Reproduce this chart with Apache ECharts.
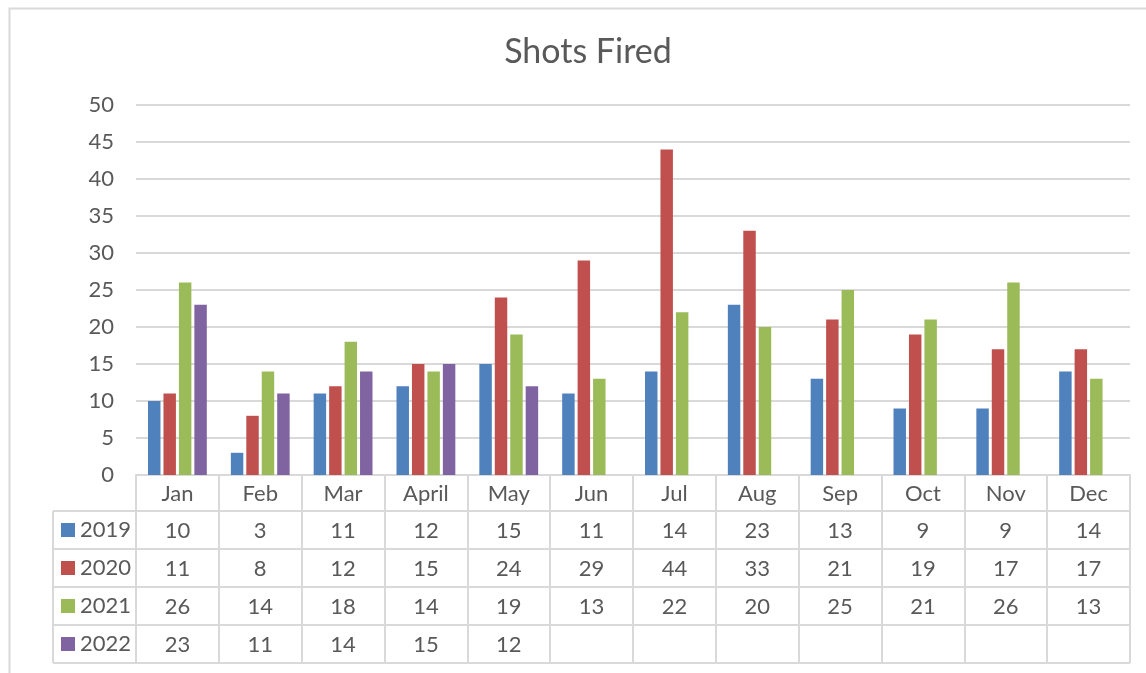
<!DOCTYPE html>
<html>
<head>
    <meta charset="utf-8">
    <script src="https://cdn.jsdelivr.net/npm/echarts@6/dist/echarts.min.js"></script>
</head>
<body style="margin:0">
    <div id="main" style="width: 1146px; height: 673px"></div>
    <script type="text/javascript">
        var months = ['Jan', 'Feb', 'Mar', 'April', 'May', 'Jun', 'Jul', 'Aug', 'Sep', 'Oct', 'Nov', 'Dec'];
        var years = ['2019', '2020', '2021', '2022'];
        var y2019 = [10, 3, 11, 12, 15, 11, 14, 23, 13, 9, 9, 14];
        var y2020 = [11, 8, 12, 15, 24, 29, 44, 33, 21, 19, 17, 17];
        var y2021 = [26, 14, 18, 14, 19, 13, 22, 20, 25, 21, 26, 13];
        var y2022 = [23, 11, 14, 15, 12, null, null, null, null, null, null, null];
        var yTicks = [0, 50, 5]; // min, max, step

        var rows = [y2019, y2020, y2021, y2022];
        var colors = ['#4f81bd', '#c0504d', '#9bbb59', '#8064a2'];
        var font = 'Lato';
        var textColor = '#595959';
        var lineColor = '#d9d9d9';

        // layout of plot + data table
        var gLeft = 136, gRight = 16, gTop = 105, gBottom = 198;
        var headH = 36, rowH = 38, keyLeft = 53;

        window.onload = function () {
            var myChart = echarts.init(document.getElementById('main'));
            var W = 1146, H = 673;
            var axisY = H - gBottom;
            var tableRight = W - gRight;

            var xAxes = [{
                type: 'category',
                data: months,
                axisLine: { lineStyle: { color: lineColor, width: 2 } },
                axisTick: { show: true, length: headH + rowH * rows.length, lineStyle: { color: lineColor, width: 2 } },
                axisLabel: { color: textColor, fontFamily: font, fontSize: 22, margin: 8 },
                splitLine: { show: false }
            }];
            for (var r = 0; r < rows.length; r++) {
                (function (vals, r) {
                    xAxes.push({
                        type: 'category',
                        data: months,
                        position: 'bottom',
                        offset: headH + rowH * r,
                        axisLine: { show: false },
                        axisTick: { show: false },
                        axisLabel: {
                            color: textColor, fontFamily: font, fontSize: 22, margin: 9,
                            formatter: function (v, idx) { return vals[idx] == null ? '' : String(vals[idx]); }
                        }
                    });
                })(rows[r], r);
            }

            var serie = [];
            for (var i = 0; i < rows.length; i++) {
                serie.push({
                    name: years[i],
                    type: 'bar',
                    data: rows[i],
                    barGap: '24%',
                    barCategoryGap: '29%',
                    itemStyle: { color: colors[i] }
                });
            }

            // table horizontal lines + legend column
            var graphics = [];
            graphics.push({
                type: 'rect', left: 7, top: 6, silent: true,
                shape: { width: W + 20, height: H + 20 },
                style: { fill: 'none', stroke: lineColor, lineWidth: 2 }
            });
            for (var k = 0; k <= rows.length; k++) {
                var yy = axisY + headH + rowH * k;
                graphics.push({
                    type: 'line', silent: true,
                    shape: { x1: keyLeft, y1: yy, x2: tableRight, y2: yy },
                    style: { stroke: lineColor, lineWidth: 2 }
                });
            }
            graphics.push({
                type: 'line', silent: true,
                shape: { x1: keyLeft, y1: axisY + headH, x2: keyLeft, y2: axisY + headH + rowH * rows.length },
                style: { stroke: lineColor, lineWidth: 2 }
            });
            for (var j = 0; j < years.length; j++) {
                var cy = axisY + headH + rowH * j + rowH / 2;
                graphics.push({
                    type: 'rect', silent: true,
                    shape: { x: keyLeft + 8, y: cy - 7, width: 14, height: 14 },
                    style: { fill: colors[j] }
                });
                graphics.push({
                    type: 'text', silent: true,
                    x: keyLeft + 27, y: cy,
                    style: { text: years[j], fill: textColor, font: '22px ' + font, verticalAlign: 'middle', align: 'left' }
                });
            }

            option = {
                animation: false,
                backgroundColor: '#ffffff',
                title: {
                    text: 'Shots Fired',
                    left: 583,
                    textAlign: 'center',
                    top: 30,
                    textStyle: { color: textColor, fontFamily: font, fontSize: 34, fontWeight: 'normal' }
                },
                grid: { left: gLeft, right: gRight, top: gTop, bottom: gBottom, containLabel: false },
                xAxis: xAxes,
                yAxis: {
                    type: 'value',
                    min: yTicks[0],
                    max: yTicks[1],
                    interval: yTicks[2],
                    axisLine: { show: false },
                    axisTick: { show: false },
                    axisLabel: { color: textColor, fontFamily: font, fontSize: 22, margin: 22 },
                    splitLine: { lineStyle: { color: lineColor, width: 2 } }
                },
                series: serie,
                graphic: graphics
            };
            myChart.setOption(option);
        }
    </script>
</body>
</html>
